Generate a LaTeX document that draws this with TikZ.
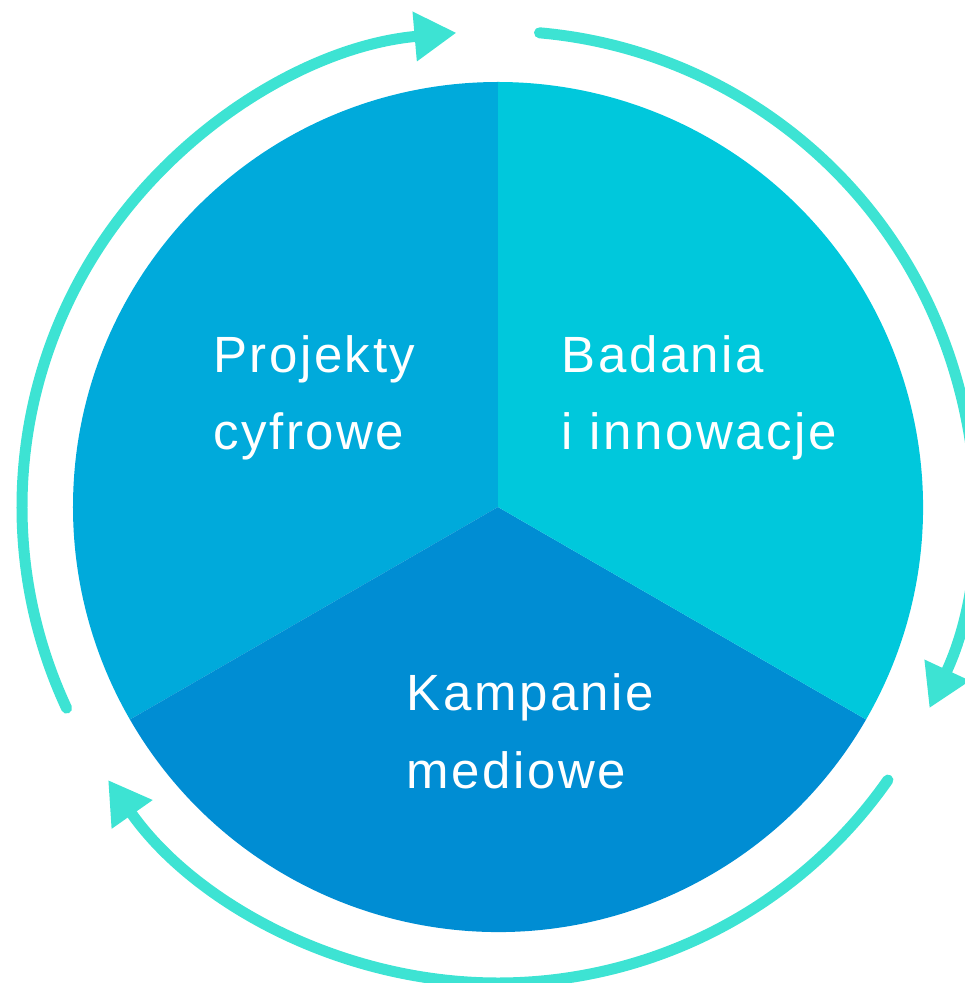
\documentclass[tikz,border=0pt]{standalone}
\usepackage{fontspec}
\setmainfont{Liberation Sans}[LetterSpace=5]
\usepackage{tikz}
\usetikzlibrary{arrows.meta}

\definecolor{leftblue}{HTML}{00AADB}
\definecolor{rightblue}{HTML}{00C8DC}
\definecolor{bottomblue}{HTML}{008DD3}
\definecolor{ringcolor}{HTML}{3DE3D3}

\tikzset{
	ring/.style={ringcolor,line width=0.22cm,line cap=round,-{Triangle[length=0.84cm,width=0.94cm]}},
	sectortext/.style={white,align=left,anchor=base west,inner sep=0,font=\fontsize{29pt}{44pt}\selectfont}
}

\begin{document}
\begin{tikzpicture}
	\useasboundingbox (-9.96,-9.52) rectangle (9.32,10.14);
	\coordinate (centre) at (0,0);
	%SECTORS
	\fill[leftblue] (centre)--(90:8.5) arc[start angle=90,end angle=210,radius=8.5]--cycle;
	\fill[bottomblue] (centre)--(210:8.5) arc[start angle=210,end angle=330,radius=8.5]--cycle;
	\fill[rightblue] (centre)--(330:8.5) arc[start angle=-30,end angle=90,radius=8.5]--cycle;
	
	%RING
	\draw[ring] (205:9.52) arc[start angle=205,end angle=95,radius=9.52];
	\draw[ring] (85:9.52) arc[start angle=85,end angle=-25,radius=9.52];
	\draw[ring] (-35:9.52) arc[start angle=-35,end angle=-145,radius=9.52];
	
	%LABELS (anchored on the second line)
	\node[sectortext] (projekty) at (-5.70,1.14) {Projekty\\cyfrowe};
	\node[sectortext] (badania) at (1.27,1.14) {Badania\\i innowacje};
	\node[sectortext] (kampanie) at (-1.83,-5.62) {Kampanie\\mediowe};
\end{tikzpicture}
\end{document}
